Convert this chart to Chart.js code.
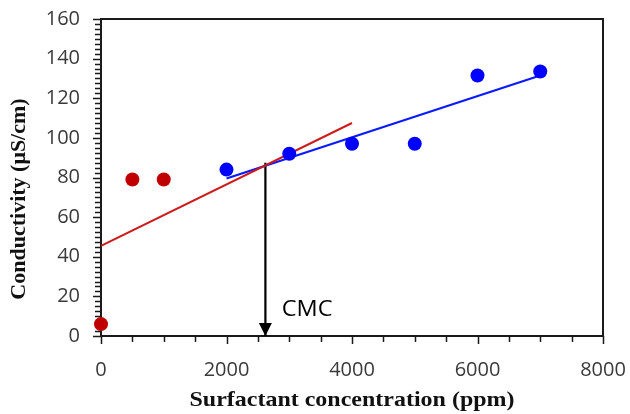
<!DOCTYPE html>
<html>
<head>
<meta charset="utf-8">
<script src="https://cdn.jsdelivr.net/npm/chart.js@4.4.0/dist/chart.umd.min.js"></script>
<style>
  body { margin: 0; background: #fff; }
  #wrap { width: 630px; height: 414px; }
</style>
</head>
<body>
<div id="wrap"><canvas id="chart" width="630" height="414"></canvas></div>
<script>
// --- data ---
const redX = [0, 500, 1000];
const redY = [6, 79, 79];
const blueX = [2000, 3000, 4000, 5000, 6000, 7000];
const blueY = [84, 92, 97, 97, 131.5, 133.5];

// fitted lines (end points)
const redFitX = [0, 4000];
const redFitY = [45.5, 107.5];
const blueFitX = [2000, 7000];
const blueFitY = [79.5, 131.5];

// CMC marker
const cmcX = [2620, 2620];
const cmcY = [87.5, 0];
const cmcLabel = 'CMC';

const xTitle = 'Surfactant concentration (ppm)';
const yTitle = 'Conductivity (\u03bcS/cm)';

const toPoints = (xs, ys) => xs.map((x, i) => ({ x: x, y: ys[i] }));

const tickFont = { family: '"Open Sans", sans-serif', size: 20 };
const titleFont = 'bold 22px "Liberation Serif", "Times New Roman", serif';

// frame, tick marks, titles, arrowhead, CMC label
const decorPlugin = {
    id: 'decor',
    beforeDatasetsDraw(chart) {
        const ctx = chart.ctx;
        const a = chart.chartArea;
        const xs = chart.scales.x;
        const ys = chart.scales.y;
        ctx.save();
        ctx.strokeStyle = '#1a1a1a';
        ctx.lineWidth = 2;
        ctx.strokeRect(a.left, a.top, a.right - a.left, a.bottom - a.top);

        ctx.lineWidth = 1.5;
        ctx.beginPath();
        // y ticks every 2.5, majors every 20
        for (let v = 0; v <= 160; v += 2.5) {
            const py = Math.round(ys.getPixelForValue(v)) + 0.5;
            const len = (v % 20 === 0) ? 8 : 6;
            ctx.moveTo(a.left - len, py);
            ctx.lineTo(a.left, py);
        }
        // x ticks every 500
        for (let v = 0; v <= 8000; v += 500) {
            const px = Math.round(xs.getPixelForValue(v)) + 0.5;
            const len = (v % 2000 === 0) ? 8 : 6;
            ctx.moveTo(px, a.bottom);
            ctx.lineTo(px, a.bottom + len);
        }
        ctx.stroke();
        ctx.restore();
    },
    afterDraw(chart) {
        const ctx = chart.ctx;
        const a = chart.chartArea;
        const xs = chart.scales.x;
        const ys = chart.scales.y;
        ctx.save();

        // arrowhead at the bottom of the CMC line
        const tipX = xs.getPixelForValue(cmcX[1]);
        const tipY = ys.getPixelForValue(cmcY[1]);
        ctx.fillStyle = '#000';
        ctx.beginPath();
        ctx.moveTo(tipX, tipY);
        ctx.lineTo(tipX - 6.5, tipY - 13);
        ctx.lineTo(tipX + 6.5, tipY - 13);
        ctx.closePath();
        ctx.fill();

        // CMC label
        ctx.save();
        ctx.font = '21px "Open Sans", sans-serif';
        ctx.textAlign = 'left';
        ctx.textBaseline = 'middle';
        ctx.translate(xs.getPixelForValue(2880), ys.getPixelForValue(13));
        ctx.scale(1.12, 1);
        ctx.fillText(cmcLabel, 0, 0);
        ctx.restore();

        // axis titles
        ctx.fillStyle = '#111';
        ctx.font = titleFont;
        ctx.textAlign = 'center';
        ctx.textBaseline = 'middle';
        ctx.save();
        ctx.translate((a.left + a.right) / 2, 400);
        ctx.scale(1.09, 1);
        ctx.fillText(xTitle, 0, 0);
        ctx.restore();

        ctx.translate(19, 199);
        ctx.rotate(-Math.PI / 2);
        ctx.fillText(yTitle, 0, 0);
        ctx.restore();
    }
};

const ctx = document.getElementById('chart').getContext('2d');
const chart = new Chart(ctx, {
    type: 'scatter',
    data: {
        datasets: [
            {
                data: toPoints(redX, redY),
                backgroundColor: '#c00000',
                borderWidth: 0,
                pointRadius: 7,
                clip: false,
                order: 0
            },
            {
                data: toPoints(blueX, blueY),
                backgroundColor: '#0000ff',
                borderWidth: 0,
                pointRadius: 7,
                clip: false,
                order: 0
            },
            {
                type: 'line',
                data: toPoints(redFitX, redFitY),
                borderColor: '#cc1c1c',
                borderWidth: 2,
                pointRadius: 0,
                fill: false,
                order: 1
            },
            {
                type: 'line',
                data: toPoints(blueFitX, blueFitY),
                borderColor: '#0a1aff',
                borderWidth: 2.2,
                pointRadius: 0,
                fill: false,
                order: 1
            },
            {
                type: 'line',
                data: toPoints(cmcX, cmcY),
                borderColor: '#000',
                borderWidth: 2.2,
                pointRadius: 0,
                fill: false,
                order: 1
            }
        ]
    },
    options: {
        responsive: false,
        animation: false,
        layout: { padding: { top: 19, right: 27, left: 0, bottom: 0 } },
        plugins: {
            legend: { display: false },
            tooltip: { enabled: false }
        },
        scales: {
            x: {
                type: 'linear',
                min: 0,
                max: 8000,
                border: { display: false },
                grid: { display: false, drawTicks: false },
                ticks: {
                    stepSize: 2000,
                    font: tickFont,
                    color: '#3a3a3a',
                    padding: 22,
                    maxRotation: 0,
                    callback: v => String(v)
                },
                afterFit(scale) {
                    scale.height = 414 - 336;
                    scale.paddingLeft = 0;
                    scale.paddingRight = 0;
                }
            },
            y: {
                type: 'linear',
                min: 0,
                max: 160,
                border: { display: false },
                grid: { display: false, drawTicks: false },
                ticks: {
                    stepSize: 20,
                    font: tickFont,
                    color: '#3a3a3a',
                    padding: 21
                },
                afterFit(scale) {
                    scale.width = 101;
                    scale.paddingTop = 0;
                    scale.paddingBottom = 0;
                }
            }
        }
    },
    plugins: [decorPlugin]
});
</script>
</body>
</html>
